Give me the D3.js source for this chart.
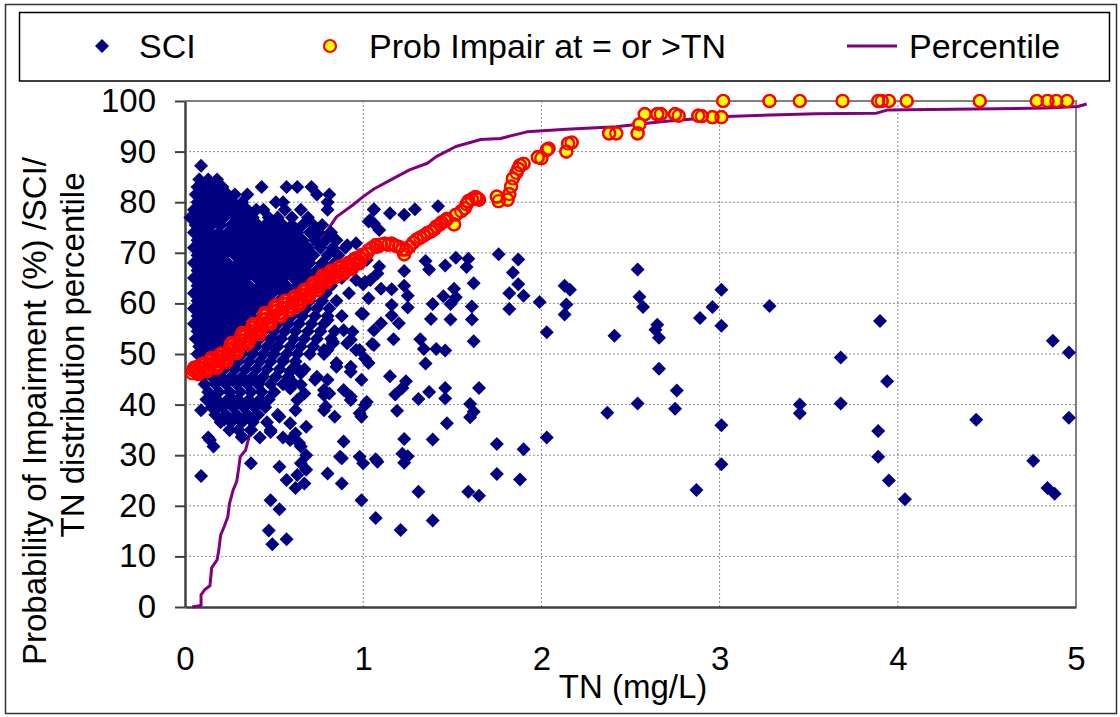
<!DOCTYPE html>
<html>
<head>
<meta charset="utf-8">
<script src="https://cdn.jsdelivr.net/npm/d3@7"></script>
<style>
body { margin: 0; background: #fff; }
text { font-family: "Liberation Sans", Arial, sans-serif; fill: #000; }
</style>
</head>
<body>
<svg id="chart" width="1120" height="717"></svg>
<script>
var width = 1120, height = 717;
var plotLeft = 185, plotRight = 1076, plotTop = 101, plotBottom = 607;

var xTicks = [0, 1, 2, 3, 4, 5];
var yTicks = [0, 10, 20, 30, 40, 50, 60, 70, 80, 90, 100];
var legendLabels = ["SCI", "Prob Impair at = or >TN", "Percentile"];

// SCI, dense core read row by row: [y, [x values]]
var sciCoreRows = [
  [84.5, [0.08, 0.13, 0.18]],
  [83.0, [0.07, 0.11, 0.16, 0.21, 0.43, 0.57, 0.63, 0.71]],
  [81.5, [0.06, 0.10, 0.14, 0.19, 0.24, 0.28, 0.35, 0.74, 0.81]],
  [80.0, [0.07, 0.12, 0.17, 0.22, 0.27, 0.32, 0.51, 0.55, 0.80]],
  [78.5, [0.05, 0.09, 0.14, 0.19, 0.25, 0.30, 0.35, 0.40, 0.44, 0.56, 0.65, 0.80]],
  [77.0, [0.03, 0.08, 0.12, 0.17, 0.22, 0.28, 0.33, 0.38, 0.47, 0.52, 0.60, 0.69]],
  [75.5, [0.06, 0.11, 0.15, 0.20, 0.26, 0.31, 0.36, 0.41, 0.45, 0.50, 0.55, 0.60, 0.66, 0.72, 0.77]],
  [74.0, [0.05, 0.09, 0.14, 0.19, 0.24, 0.29, 0.34, 0.39, 0.43, 0.48, 0.53, 0.58, 0.63, 0.70, 0.75, 0.82]],
  [72.5, [0.07, 0.12, 0.17, 0.22, 0.27, 0.32, 0.37, 0.41, 0.46, 0.51, 0.56, 0.61, 0.66, 0.73, 0.79, 0.85]],
  [71.0, [0.05, 0.10, 0.15, 0.20, 0.25, 0.30, 0.35, 0.40, 0.44, 0.49, 0.54, 0.59, 0.64, 0.69, 0.76, 0.83, 0.90]],
  [69.5, [0.07, 0.12, 0.17, 0.22, 0.28, 0.33, 0.38, 0.42, 0.47, 0.52, 0.57, 0.62, 0.67, 0.72, 0.80, 0.86]],
  [68.0, [0.05, 0.09, 0.14, 0.19, 0.24, 0.30, 0.35, 0.39, 0.45, 0.50, 0.55, 0.60, 0.65, 0.70, 0.77, 0.84, 0.94]],
  [66.5, [0.07, 0.11, 0.16, 0.21, 0.27, 0.32, 0.37, 0.42, 0.47, 0.53, 0.58, 0.63, 0.68, 0.74, 0.80]],
  [65.0, [0.05, 0.09, 0.14, 0.19, 0.24, 0.29, 0.34, 0.40, 0.45, 0.50, 0.55, 0.61, 0.66, 0.71, 0.78, 0.88]],
  [63.5, [0.07, 0.12, 0.17, 0.22, 0.26, 0.31, 0.36, 0.42, 0.47, 0.52, 0.57, 0.63, 0.69, 0.75, 0.82]],
  [62.0, [0.05, 0.10, 0.15, 0.20, 0.25, 0.29, 0.34, 0.39, 0.44, 0.49, 0.55, 0.60, 0.66, 0.72, 0.79, 0.92]],
  [60.5, [0.07, 0.12, 0.17, 0.22, 0.27, 0.32, 0.37, 0.42, 0.47, 0.53, 0.58, 0.64, 0.70, 0.77, 0.85]],
  [59.0, [0.05, 0.10, 0.15, 0.19, 0.24, 0.29, 0.34, 0.39, 0.45, 0.50, 0.56, 0.62, 0.68, 0.74, 0.81]],
  [57.5, [0.07, 0.12, 0.17, 0.22, 0.27, 0.32, 0.37, 0.43, 0.48, 0.54, 0.60, 0.66, 0.73, 0.80, 0.88]],
  [56.0, [0.05, 0.10, 0.15, 0.20, 0.25, 0.30, 0.35, 0.40, 0.46, 0.52, 0.58, 0.64, 0.71, 0.78]],
  [54.5, [0.07, 0.12, 0.17, 0.22, 0.27, 0.32, 0.38, 0.44, 0.50, 0.56, 0.62, 0.69, 0.76, 0.84]],
  [53.0, [0.06, 0.10, 0.15, 0.20, 0.25, 0.30, 0.36, 0.42, 0.48, 0.54, 0.61, 0.67, 0.74, 0.82]],
  [51.5, [0.08, 0.13, 0.18, 0.23, 0.28, 0.34, 0.40, 0.46, 0.52, 0.59, 0.65, 0.72]],
  [50.0, [0.07, 0.11, 0.16, 0.21, 0.26, 0.32, 0.38, 0.44, 0.50, 0.57, 0.63, 0.70, 0.78]],
  [48.5, [0.09, 0.14, 0.19, 0.24, 0.30, 0.36, 0.42, 0.48, 0.55, 0.62]],
  [47.0, [0.08, 0.12, 0.17, 0.22, 0.28, 0.34, 0.40, 0.46, 0.53, 0.60, 0.67]],
  [45.5, [0.10, 0.15, 0.20, 0.26, 0.32, 0.38, 0.44, 0.51, 0.58]],
  [44.0, [0.11, 0.17, 0.23, 0.29, 0.35, 0.41, 0.48, 0.55]],
  [42.5, [0.13, 0.19, 0.25, 0.31, 0.37, 0.43, 0.50]],
  [41.0, [0.12, 0.18, 0.24, 0.30, 0.36, 0.42, 0.47]],
  [39.5, [0.15, 0.21, 0.27, 0.33, 0.39, 0.45]],
  [38.0, [0.17, 0.23, 0.29, 0.35, 0.41, 0.52]],
  [36.5, [0.20, 0.26, 0.32, 0.38, 0.46]],
  [35.0, [0.25, 0.30, 0.37, 0.48]],
  [33.5, [0.13, 0.32, 0.42, 0.55]]
];

// SCI, scattered points [TN, SCI]
var sciScatter = [
  [0.09, 87.2], [0.05, 76.8], [0.09, 38.9], [0.15, 41.3], [0.26, 41.3], [0.19, 39.6],
  [0.14, 33.0], [0.16, 31.7], [0.22, 37.0], [0.25, 35.0], [0.32, 33.7], [0.37, 35.0],
  [0.09, 25.9], [0.37, 28.4], [0.48, 21.1], [0.53, 19.3], [0.47, 15.1], [0.49, 12.4],
  [0.57, 13.4], [0.53, 27.7], [0.57, 25.1], [0.63, 26.1], [0.62, 23.5], [0.67, 24.4],
  [0.68, 27.1], [0.65, 28.4], [0.80, 26.4], [0.88, 24.4], [0.88, 29.4], [0.99, 21.1],
  [1.07, 17.6], [1.00, 28.4], [1.08, 28.7], [0.53, 37.6], [0.59, 36.3], [0.62, 34.3],
  [0.64, 32.4], [0.59, 33.0], [0.48, 34.6], [0.68, 30.0], [0.79, 39.6], [0.84, 37.6],
  [0.89, 32.7], [0.93, 40.9], [0.99, 37.6], [1.01, 39.9], [0.67, 42.2], [0.78, 41.9],
  [0.73, 44.9], [0.59, 46.5], [0.64, 46.8], [0.61, 44.2], [0.55, 48.8], [0.80, 50.8],
  [0.85, 47.5], [0.93, 46.5], [0.98, 50.8], [0.99, 44.9], [1.03, 48.2], [0.94, 54.4],
  [0.99, 58.0], [1.06, 51.8], [1.06, 54.7], [1.03, 61.0], [0.89, 54.7], [0.91, 52.1],
  [0.83, 52.4], [0.80, 56.7], [1.01, 64.3], [1.08, 65.9], [1.04, 76.5], [1.06, 78.5],
  [0.68, 35.6], [0.65, 31.7], [0.62, 38.9], [0.63, 40.9], [0.59, 43.2], [0.65, 43.9],
  [0.65, 46.2], [0.78, 42.9], [0.81, 42.2], [0.78, 38.9], [0.87, 29.7], [0.98, 29.7],
  [0.74, 45.5], [0.80, 44.9], [0.89, 42.9], [0.93, 41.6], [0.98, 38.3], [0.93, 47.5],
  [0.85, 48.2], [0.78, 50.8], [0.83, 52.1], [0.93, 52.8], [0.96, 50.8], [0.91, 71.5],
  [0.96, 71.9], [0.93, 68.6], [1.02, 68.6], [0.96, 64.6], [1.04, 64.6], [1.09, 74.5],
  [1.06, 78.6], [1.15, 77.8], [1.23, 77.5], [1.29, 78.6], [1.42, 79.2], [1.03, 76.2],
  [1.06, 75.8], [1.35, 68.4], [1.37, 66.7], [1.46, 67.5], [1.52, 69.0], [1.59, 68.8],
  [1.76, 69.7], [1.87, 68.7], [1.84, 66.1], [1.62, 64.0], [1.87, 63.8], [1.82, 62.0],
  [1.90, 61.5], [1.99, 60.3], [1.82, 58.9], [1.09, 67.3], [1.23, 66.4], [1.23, 63.5],
  [1.16, 62.8], [1.10, 62.9], [1.25, 61.5], [1.25, 59.2], [1.00, 63.8], [1.45, 61.4],
  [1.51, 62.9], [1.52, 61.2], [1.49, 59.9], [1.39, 59.9], [1.38, 56.9], [1.49, 56.8],
  [1.61, 59.4], [1.61, 56.8], [1.16, 59.7], [1.16, 57.6], [1.20, 56.1], [1.10, 56.1],
  [1.00, 57.9], [2.03, 54.3], [1.62, 52.5], [1.17, 52.9], [1.32, 52.9], [1.34, 51.0],
  [1.41, 51.0], [1.46, 50.7], [1.35, 48.1], [1.05, 52.0], [1.01, 49.1], [1.15, 45.6],
  [1.24, 44.6], [1.22, 43.3], [1.18, 42.0], [1.31, 41.1], [1.37, 42.5], [1.46, 43.3],
  [1.46, 41.2], [1.65, 43.3], [1.60, 40.1], [1.62, 38.6], [1.60, 37.5], [1.47, 36.3],
  [1.19, 38.8], [1.02, 40.5], [1.23, 33.2], [1.39, 33.1], [1.75, 32.2], [1.90, 31.2],
  [2.03, 33.5], [1.22, 30.3], [1.25, 29.8], [1.23, 28.5], [1.07, 29.2], [1.75, 26.3],
  [1.88, 25.2], [1.31, 22.8], [1.59, 22.8], [1.65, 22.0], [1.39, 17.1], [1.21, 15.2],
  [1.58, 67.2], [2.13, 63.5], [2.16, 62.7], [2.54, 66.7], [2.55, 61.3], [2.57, 59.3],
  [3.01, 62.7], [2.96, 59.3], [3.28, 59.5], [2.13, 57.8], [2.14, 59.8], [2.65, 55.8],
  [2.89, 57.1], [3.01, 55.6], [2.41, 53.6], [2.64, 54.8], [2.66, 53.2], [3.68, 49.3],
  [4.87, 52.6], [4.96, 50.3], [2.37, 38.4], [2.54, 40.2], [2.66, 47.1], [2.76, 42.8],
  [2.75, 39.2], [3.45, 40.0], [3.45, 38.3], [3.68, 40.2], [3.94, 44.6], [3.89, 34.8],
  [3.89, 29.7], [3.95, 25.0], [4.04, 21.3], [4.44, 37.0], [4.76, 28.9], [4.84, 23.5],
  [4.88, 22.4], [4.96, 37.4], [3.01, 35.9], [3.01, 28.2], [2.87, 23.1], [3.90, 56.5]
];

// Probability of impairment at = or > TN [TN, %], dense run below TN = 1
var probLow = [
  [0.040, 46.2], [0.046, 46.8], [0.052, 47.3], [0.058, 47.1], [0.064, 46.6], [0.070, 46.2], [0.076, 46.0], [0.082, 46.5], [0.088, 47.2], [0.094, 47.9],
  [0.100, 48.1], [0.106, 47.8], [0.112, 47.3], [0.118, 46.8], [0.124, 46.6], [0.130, 47.1], [0.136, 47.9], [0.142, 48.7], [0.148, 49.2], [0.154, 48.8],
  [0.160, 48.3], [0.166, 47.7], [0.172, 47.3], [0.178, 47.2], [0.184, 47.9], [0.190, 48.6], [0.196, 49.4], [0.202, 50.1], [0.208, 50.0], [0.214, 49.6],
  [0.220, 49.1], [0.226, 48.6], [0.232, 48.4], [0.238, 49.1], [0.244, 49.9], [0.250, 50.9], [0.256, 51.8], [0.262, 52.2], [0.268, 51.8], [0.274, 51.3],
  [0.280, 50.8], [0.286, 50.3], [0.292, 50.2], [0.298, 50.8], [0.304, 51.7], [0.310, 52.7], [0.316, 53.6], [0.322, 54.2], [0.328, 53.9], [0.334, 53.4],
  [0.340, 52.8], [0.346, 52.3], [0.352, 52.0], [0.358, 52.5], [0.364, 53.4], [0.370, 54.4], [0.376, 55.2], [0.382, 55.9], [0.388, 55.8], [0.394, 55.3],
  [0.400, 54.8], [0.406, 54.3], [0.412, 54.0], [0.418, 53.9], [0.424, 54.7], [0.430, 55.7], [0.436, 56.8], [0.442, 57.7], [0.448, 58.1], [0.454, 57.6],
  [0.460, 57.0], [0.466, 56.4], [0.472, 55.9], [0.478, 55.9], [0.484, 56.5], [0.490, 57.4], [0.496, 58.4], [0.502, 59.2], [0.508, 59.6], [0.514, 59.2],
  [0.520, 58.7], [0.526, 58.0], [0.532, 57.5], [0.538, 57.4], [0.544, 58.1], [0.550, 59.0], [0.556, 59.9], [0.562, 60.5], [0.568, 60.5], [0.574, 59.9],
  [0.580, 59.3], [0.586, 58.7], [0.592, 58.7], [0.598, 59.3], [0.604, 60.1], [0.610, 60.9], [0.616, 61.4], [0.622, 61.2], [0.628, 60.6], [0.634, 60.0],
  [0.640, 59.7], [0.646, 60.1], [0.652, 60.8], [0.658, 61.7], [0.664, 62.4], [0.670, 62.7], [0.676, 62.4], [0.682, 61.8], [0.688, 61.3], [0.694, 61.2],
  [0.700, 61.7], [0.706, 62.5], [0.712, 63.4], [0.718, 64.0], [0.724, 64.0], [0.730, 63.6], [0.736, 63.1], [0.742, 62.6], [0.748, 62.7], [0.754, 63.4],
  [0.760, 64.3], [0.766, 65.0], [0.772, 65.5], [0.778, 65.4], [0.784, 64.9], [0.790, 64.3], [0.796, 64.2], [0.802, 64.6], [0.808, 65.4], [0.814, 66.1],
  [0.820, 66.5], [0.826, 66.4], [0.832, 65.9], [0.838, 65.4], [0.844, 65.2], [0.850, 65.6], [0.856, 66.3], [0.862, 67.0], [0.868, 67.3], [0.874, 67.0],
  [0.880, 66.5], [0.886, 66.0], [0.892, 65.9], [0.898, 66.4], [0.904, 67.1], [0.910, 67.8], [0.916, 68.0], [0.922, 67.6], [0.928, 67.1], [0.934, 66.8],
  [0.940, 67.1], [0.946, 67.8], [0.952, 68.5], [0.958, 68.9], [0.964, 68.7], [0.970, 68.2], [0.976, 67.9], [0.982, 68.2], [0.988, 68.9], [0.994, 69.6], [1.000, 69.5]
];

// Probability of impairment, TN above 1
var probHigh = [
  [1.02, 69.8], [1.03, 70.5], [1.05, 71.0], [1.07, 71.5], [1.08, 71.2], [1.10, 71.6],
  [1.12, 71.8], [1.14, 71.6], [1.16, 71.8], [1.18, 71.4], [1.20, 71.2], [1.22, 70.6],
  [1.23, 69.7], [1.24, 70.6], [1.26, 71.2], [1.28, 72.0], [1.30, 72.6], [1.32, 73.0],
  [1.34, 73.4], [1.36, 73.9], [1.38, 74.2], [1.40, 74.7], [1.41, 75.2], [1.43, 75.6],
  [1.44, 76.0], [1.46, 76.3], [1.47, 76.7], [1.51, 75.6], [1.52, 77.5], [1.55, 78.2],
  [1.57, 78.8], [1.58, 79.6], [1.59, 80.2], [1.61, 80.6], [1.63, 81.0], [1.64, 80.8],
  [1.65, 80.5], [1.75, 81.1], [1.76, 80.2], [1.81, 80.5], [1.82, 81.6], [1.83, 83.1],
  [1.84, 84.7], [1.86, 85.8], [1.87, 86.6], [1.88, 87.3], [1.90, 87.6], [1.98, 88.9],
  [2.00, 88.7], [2.03, 90.3], [2.04, 90.6], [2.14, 90.0], [2.15, 91.6], [2.17, 91.8],
  [2.38, 93.6], [2.42, 93.6], [2.54, 93.6], [2.55, 95.4], [2.58, 97.4], [2.65, 97.4],
  [2.67, 97.4], [2.75, 97.4], [2.77, 97.1], [2.88, 97.1], [2.90, 97.0], [2.96, 96.8],
  [3.01, 96.8], [3.02, 100], [3.28, 100], [3.45, 100], [3.69, 100], [3.89, 100],
  [3.91, 100], [3.95, 100], [4.05, 100], [4.46, 100], [4.78, 100], [4.84, 100],
  [4.89, 100], [4.95, 100]
];

// TN distribution percentile [TN, percentile]
var percentilePoints = [
  [0.04, 0], [0.09, 0.3], [0.09, 2.4], [0.11, 3.4], [0.14, 4.2], [0.15, 7.8],
  [0.18, 9.3], [0.19, 11.3], [0.20, 14.2], [0.22, 15.9], [0.24, 17.8], [0.25, 20.5],
  [0.27, 23.1], [0.29, 24.8], [0.30, 27.1], [0.31, 29.7], [0.34, 31.0], [0.36, 33.7],
  [0.37, 37.0], [0.40, 40.3], [0.43, 42.9], [0.45, 46.2], [0.48, 50.0], [0.52, 55.0],
  [0.56, 59.0], [0.60, 63.0], [0.64, 66.5], [0.69, 70.8], [0.76, 73.2], [0.80, 74.5],
  [0.85, 77.1], [0.94, 79.4], [1.00, 81.1], [1.06, 82.6], [1.17, 84.7], [1.26, 86.4],
  [1.36, 87.7], [1.41, 89.0], [1.52, 91.0], [1.66, 92.4], [1.77, 92.6], [1.92, 93.9],
  [2.14, 94.4], [2.42, 94.9], [2.67, 95.9], [3.00, 96.9], [3.54, 97.5], [3.88, 97.6],
  [3.94, 98.2], [4.84, 98.6], [5.01, 98.9], [5.06, 99.4]
];

var sciPoints = [];
sciCoreRows.forEach(function(row) {
  row[1].forEach(function(tn) { sciPoints.push([tn, row[0]]); });
});
sciPoints = sciPoints.concat(sciScatter);

// markers drawn from high TN to low, so the lowest one ends up on top
var probPoints = probLow.concat(probHigh).slice().sort(function(a, b) { return b[0] - a[0]; });

var svg = d3.select("#chart");
var x = d3.scaleLinear().domain([0, 5]).range([plotLeft, plotRight]);
var y = d3.scaleLinear().domain([0, 100]).range([plotBottom, plotTop]);

svg.append("rect").attr("width", width).attr("height", height).attr("fill", "#fff");
svg.append("rect")
  .attr("x", 5.5).attr("y", 4.5).attr("width", 1111).attr("height", 709)
  .attr("fill", "none").attr("stroke", "#333").attr("stroke-width", 1.5);

// grid
svg.append("g").selectAll("line").data(xTicks.slice(1, -1)).enter().append("line")
  .attr("x1", function(d) { return x(d); }).attr("x2", function(d) { return x(d); })
  .attr("y1", plotTop).attr("y2", plotBottom)
  .attr("stroke", "#8c8c8c").attr("stroke-width", 1).attr("stroke-dasharray", "2,2");
svg.append("g").selectAll("line").data(yTicks.slice(1, -1)).enter().append("line")
  .attr("x1", plotLeft).attr("x2", plotRight)
  .attr("y1", function(d) { return y(d); }).attr("y2", function(d) { return y(d); })
  .attr("stroke", "#8c8c8c").attr("stroke-width", 1).attr("stroke-dasharray", "2,2");

// top and right frame of the plot area
svg.append("path")
  .attr("d", "M" + plotLeft + "," + plotTop + "H" + plotRight + "V" + plotBottom)
  .attr("fill", "none").attr("stroke", "#808080").attr("stroke-width", 2);

// axes
var yAxis = svg.append("g").attr("transform", "translate(" + plotLeft + ",0)")
  .call(d3.axisLeft(y).tickValues(yTicks).tickSize(10).tickPadding(19).tickSizeOuter(0));
var xAxis = svg.append("g").attr("transform", "translate(0," + plotBottom + ")")
  .call(d3.axisBottom(x).tickValues(xTicks).tickSize(0).tickPadding(40).tickFormat(d3.format("d")));
[yAxis, xAxis].forEach(function(a) {
  a.select(".domain").attr("stroke", "#404040").attr("stroke-width", 2.5);
  a.selectAll(".tick line").attr("stroke", "#404040").attr("stroke-width", 2);
  a.selectAll(".tick text").attr("font-size", 33).attr("font-family", "Liberation Sans, Arial, sans-serif").attr("fill", "#000");
});

// percentile line
var line = d3.line().x(function(d) { return x(d[0]); }).y(function(d) { return y(d[1]); });
svg.append("path").datum(percentilePoints)
  .attr("d", line).attr("fill", "none")
  .attr("stroke", "#800080").attr("stroke-width", 3).attr("stroke-linejoin", "round");

// SCI diamonds
var diamond = d3.symbol().type(d3.symbolSquare).size(98);
svg.append("g").selectAll("path").data(sciPoints).enter().append("path")
  .attr("d", diamond)
  .attr("transform", function(d) { return "translate(" + x(d[0]) + "," + y(d[1]) + ") rotate(45)"; })
  .attr("fill", "#000080");

// probability circles: filled markers, then their red rims again on top
// (where markers pile up the rims swamp the yellow, as in the original)
var probG = svg.append("g");
probG.selectAll("circle.fill").data(probPoints).enter().append("circle")
  .attr("class", "fill")
  .attr("cx", function(d) { return x(d[0]); })
  .attr("cy", function(d) { return y(d[1]); })
  .attr("r", 6)
  .attr("fill", "#ffff00").attr("stroke", "#ff0000").attr("stroke-width", 2.2);
probG.selectAll("circle.rim").data(probPoints.slice(0, -1)).enter().append("circle")
  .attr("class", "rim")
  .attr("cx", function(d) { return x(d[0]); })
  .attr("cy", function(d) { return y(d[1]); })
  .attr("r", 6)
  .attr("fill", "none").attr("stroke", "#ff0000").attr("stroke-width", 2.2);

// axis titles
svg.append("text").attr("x", 633).attr("y", 698).attr("text-anchor", "middle")
  .attr("font-size", 33).text("TN (mg/L)");
svg.append("text").attr("transform", "translate(46,411) rotate(-90)").attr("text-anchor", "middle")
  .attr("font-size", 33).text("Probability of Impairment (%) /SCI/");
svg.append("text").attr("transform", "translate(84,355) rotate(-90)").attr("text-anchor", "middle")
  .attr("font-size", 33).text("TN distribution percentile");

// legend
var legend = svg.append("g");
legend.append("rect").attr("x", 19.5).attr("y", 12.5).attr("width", 1090).attr("height", 68.5)
  .attr("fill", "#fff").attr("stroke", "#000").attr("stroke-width", 1.5);
legend.append("path").attr("d", diamond)
  .attr("transform", "translate(102,46) rotate(45)").attr("fill", "#000080");
legend.append("circle").attr("cx", 330).attr("cy", 46).attr("r", 6)
  .attr("fill", "#ffff00").attr("stroke", "#ff0000").attr("stroke-width", 2.2);
legend.append("line").attr("x1", 847).attr("x2", 897).attr("y1", 46).attr("y2", 46)
  .attr("stroke", "#800080").attr("stroke-width", 3);
var legendX = [139, 369, 909];
legend.selectAll("text.lab").data(legendLabels).enter().append("text")
  .attr("class", "lab")
  .attr("x", function(d, i) { return legendX[i]; })
  .attr("y", 58).attr("font-size", 34)
  .text(function(d) { return d; });
</script>
</body>
</html>
